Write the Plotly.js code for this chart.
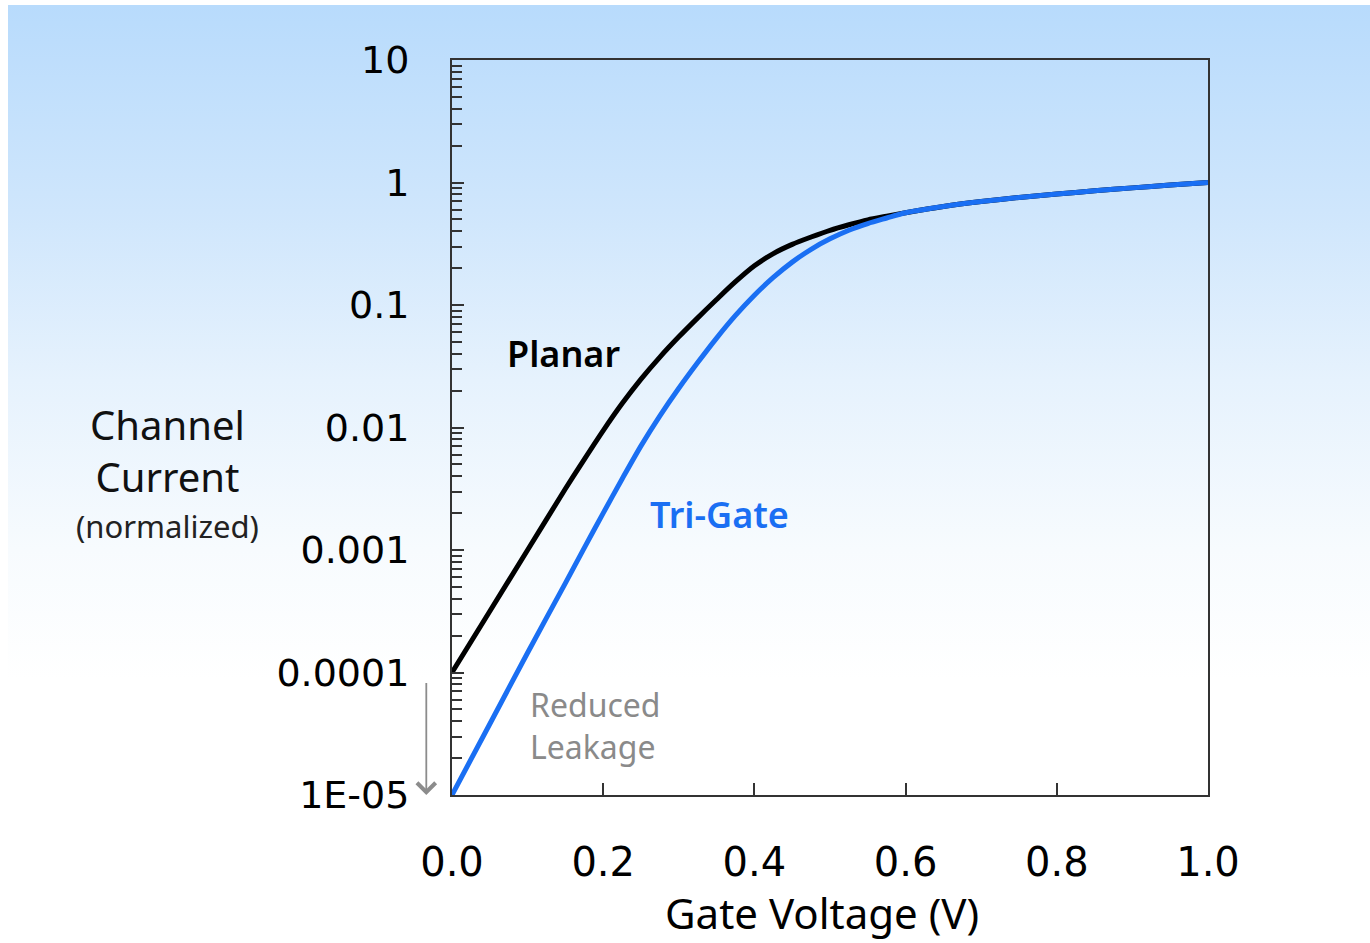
<!DOCTYPE html>
<html>
<head>
<meta charset="utf-8">
<script src="https://cdn.plot.ly/plotly-3.0.1.min.js"></script>
<style>
  html, body { margin: 0; padding: 0; background: #ffffff; }
  #bg { position: absolute; left: 8px; top: 5px; width: 1362px; height: 938px;
        background: linear-gradient(to bottom, #b8dbfc 0%, #cfe6fc 22%, #e6f2fd 40%, #f7fbfe 58%, #ffffff 72%); }
  #chart { position: absolute; left: 0; top: 0; width: 1370px; height: 943px; }
</style>
</head>
<body>
<div id="bg"></div>
<div id="chart"></div>
<script>
// Gate voltage (V)
const gateVoltage = [0, 0.05, 0.10, 0.15, 0.175, 0.20, 0.225, 0.25, 0.275, 0.30, 0.325, 0.35, 0.375, 0.40, 0.425, 0.45, 0.475, 0.50, 0.525, 0.55, 0.575, 0.60, 0.65, 0.70, 0.75, 0.80, 0.85, 0.90, 0.95, 1.00];
// Normalized channel current
const planarCurrent = [1.0e-4, 3.16e-4, 1.0e-3, 3.16e-3, 5.50e-3, 9.44e-3, 0.01567, 0.02483, 0.03758, 0.05495, 0.07852, 0.1109, 0.1549, 0.2089, 0.2630, 0.3126, 0.3589, 0.4074, 0.4519, 0.4955, 0.5309, 0.567, 0.638, 0.700, 0.755, 0.805, 0.855, 0.904, 0.953, 1.0];
const triGateCurrent = [1.0e-5, 3.80e-5, 1.45e-4, 5.37e-4, 1.04e-3, 2.00e-3, 3.80e-3, 7.08e-3, 0.01245, 0.02089, 0.03388, 0.05370, 0.08222, 0.1202, 0.1679, 0.2239, 0.2851, 0.3467, 0.4074, 0.4624, 0.5129, 0.567, 0.638, 0.700, 0.755, 0.805, 0.855, 0.904, 0.953, 1.0];
// Tick labels
const yTickVals = [1e-5, 1e-4, 1e-3, 1e-2, 1e-1, 1, 10];
const yTickText = ["1E-05", "0.0001", "0.001", "0.01", "0.1", "1", "10"];
const xTickVals = [0, 0.2, 0.4, 0.6, 0.8, 1.0];
const xTickText = ["0.0", "0.2", "0.4", "0.6", "0.8", "1.0"];

const traces = [
  { x: gateVoltage, y: planarCurrent, mode: 'lines', name: 'Planar',
    line: { color: '#000000', width: 5, shape: 'spline', smoothing: 0.8 } },
  { x: gateVoltage, y: triGateCurrent, mode: 'lines', name: 'Tri-Gate',
    line: { color: '#1a6ff3', width: 5, shape: 'spline', smoothing: 0.8 } }
];

const textFont = 'Noto Sans';

const layout = {
  width: 1370, height: 943,
  paper_bgcolor: 'rgba(0,0,0,0)', plot_bgcolor: 'rgba(0,0,0,0)',
  showlegend: false,
  margin: { l: 452, r: 162, t: 60, b: 148 },
  xaxis: {
    range: [0, 1], tickvals: xTickVals, ticktext: xTickText,
    ticks: 'inside', ticklen: 12, tickwidth: 2, tickcolor: '#333333',
    showline: true, linecolor: '#333333', linewidth: 2, mirror: true,
    showgrid: false, zeroline: false,
    tickfont: { family: 'DejaVu Sans', size: 40, color: '#000000' }, ticklabelstandoff: 31
  },
  yaxis: {
    type: 'log', range: [-5, 1], tickvals: yTickVals, ticktext: yTickText,
    ticks: 'inside', ticklen: 12, tickwidth: 2, tickcolor: '#333333',
    minor: { ticks: 'inside', ticklen: 10, tickwidth: 2, tickcolor: '#333333', dtick: 'D1', showgrid: false },
    showline: true, linecolor: '#333333', linewidth: 2, mirror: true,
    showgrid: false, zeroline: false,
    tickfont: { family: 'DejaVu Sans', size: 38, color: '#000000' }, ticklabelstandoff: 33
  },
  annotations: [
    { xref: 'paper', yref: 'paper', x: 0.490, y: -0.160, xanchor: 'center', yanchor: 'middle',
      text: 'Gate Voltage (V)', showarrow: false,
      font: { family: textFont, size: 42, color: '#000000' } },
    { xref: 'paper', yref: 'paper', x: -0.376, y: 0.469, xanchor: 'center', yanchor: 'middle',
      text: 'Channel<br>Current', showarrow: false,
      font: { family: textFont, size: 40, color: '#111111' } },
    { xref: 'paper', yref: 'paper', x: -0.376, y: 0.366, xanchor: 'center', yanchor: 'middle',
      text: '(normalized)', showarrow: false,
      font: { family: textFont, size: 31, color: '#222222' } },
    { xref: 'x', yref: 'paper', x: 0.07, y: 0.601, xanchor: 'left', yanchor: 'middle',
      text: 'Planar', showarrow: false,
      font: { family: textFont, size: 36, color: '#000000', weight: 600 } },
    { xref: 'x', yref: 'paper', x: 0.259, y: 0.382, xanchor: 'left', yanchor: 'middle',
      text: 'Tri-Gate', showarrow: false,
      font: { family: textFont, size: 36, color: '#1a6ff3', weight: 600 } },
    { xref: 'x', yref: 'paper', x: 0.1, y: 0.094, xanchor: 'left', yanchor: 'middle',
      text: 'Reduced<br>Leakage', showarrow: false, align: 'left',
      font: { family: textFont, size: 32, color: '#8a8a8a' } },
    { xref: 'paper', yref: 'paper', x: -0.034, y: 0.0, text: ' ', showarrow: true,
      ax: 0, ay: -122, arrowhead: 4, arrowsize: 2, arrowwidth: 1.8, arrowcolor: '#8c8c8c',
      standoff: 0 }
  ]
};

Plotly.newPlot('chart', traces, layout, { displayModeBar: false, staticPlot: true });
</script>
</body>
</html>
